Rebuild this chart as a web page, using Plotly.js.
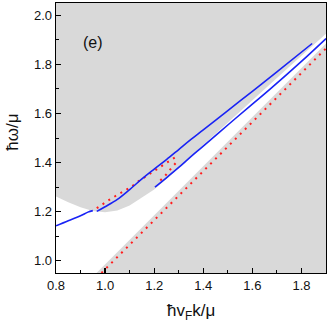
<!DOCTYPE html>
<html>
<head>
<meta charset="utf-8">
<script src="https://cdn.plot.ly/plotly-3.0.1.min.js"></script>
<style>
  html, body { margin: 0; padding: 0; background: #fff; }
  #plot { width: 327px; height: 322px; }
</style>
</head>
<body>
<div id="plot"></div>
<script>
// white (undamped) region: lower edge is a straight line, upper edge a curve
var lowEdgeK = [0.965, 1.9];
var lowEdgeW = [0.95, 1.885];
var upEdgeK = [0.8, 0.85, 0.9, 0.95, 1.0, 1.05, 1.1, 1.15, 1.2, 1.25, 1.3, 1.35, 1.4, 1.5, 1.6, 1.7, 1.8, 1.9];
var upEdgeW = [1.262, 1.238, 1.218, 1.203, 1.198, 1.205, 1.225, 1.258, 1.29, 1.333, 1.378, 1.427, 1.474, 1.566, 1.655, 1.745, 1.835, 1.925];

// blue solid branches
var blueLeftK = [0.8, 0.85, 0.9, 0.93, 0.95];
var blueLeftW = [1.142, 1.163, 1.183, 1.198, 1.204];
var blueUpK = [0.966, 1.0, 1.05, 1.1, 1.15, 1.2, 1.25, 1.3, 1.35, 1.4, 1.5, 1.6, 1.7, 1.8437];
var blueUpW = [1.201, 1.22, 1.25, 1.29, 1.333, 1.373, 1.412, 1.453, 1.494, 1.533, 1.612, 1.690, 1.769, 1.885];
var blueLowK = [1.203, 1.25, 1.3, 1.345, 1.4, 1.5, 1.6, 1.671, 1.8, 1.9];
var blueLowW = [1.300, 1.338, 1.38, 1.42, 1.467, 1.553, 1.638, 1.698, 1.812, 1.905];

// red dotted branches
var redUpK = [0.966, 0.993, 1.02, 1.05, 1.078, 1.105, 1.132, 1.16, 1.188, 1.214, 1.241, 1.272, 1.299];
var redUpW = [1.214, 1.233, 1.250, 1.268, 1.284, 1.300, 1.321, 1.34, 1.359, 1.376, 1.395, 1.413, 1.429];
var redMidK = [1.225, 1.25, 1.271, 1.295];
var redMidW = [1.327, 1.352, 1.379, 1.406];
var redLowK = [0.985, 1.2, 1.4, 1.6, 1.8, 1.9];
var redLowW = [0.95, 1.165, 1.365, 1.565, 1.765, 1.865];

var blue = 'rgb(25,35,245)';
var red = 'rgb(255,30,30)';

// polygon of the white region: along lower edge, then back along upper edge
var polyK = [0.8].concat(lowEdgeK, upEdgeK.slice().reverse());
var polyW = [0.95].concat(lowEdgeW, upEdgeW.slice().reverse());

var traces = [
    {x: polyK, y: polyW, mode: 'lines', fill: 'toself', fillcolor: '#ffffff',
     line: {width: 0, color: '#ffffff'}, hoverinfo: 'skip'},
    {x: redUpK, y: redUpW, mode: 'lines', line: {color: red, width: 2, dash: '2px,5px'}},
    {x: redMidK, y: redMidW, mode: 'lines', line: {color: red, width: 2, dash: '2px,5px'}},
    {x: redLowK, y: redLowW, mode: 'lines', line: {color: red, width: 2, dash: '2px,5px'}},
    {x: blueLeftK, y: blueLeftW, mode: 'lines', line: {color: blue, width: 1.6, shape: 'spline'}},
    {x: blueUpK, y: blueUpW, mode: 'lines', line: {color: blue, width: 1.6, shape: 'spline'}},
    {x: blueLowK, y: blueLowW, mode: 'lines', line: {color: blue, width: 1.6, shape: 'spline'}}
];

var fontFam = 'Liberation Sans, Arial, sans-serif';
var axisFont = {family: fontFam, size: 13, color: '#111'};
var titleFont = {family: fontFam, size: 17, color: '#111'};

var layout = {
    width: 327,
    height: 322,
    margin: {l: 56, r: 1, t: 3, b: 49},
    paper_bgcolor: '#ffffff',
    plot_bgcolor: '#d9d9d9',
    showlegend: false,
    xaxis: {
        range: [0.8, 1.9],
        tick0: 0.8, dtick: 0.2, tickformat: '.1f',
        ticks: 'inside', ticklen: 5, tickwidth: 1.2, tickcolor: '#000',
        minor: {ticks: 'inside', ticklen: 3, dtick: 0.1, tickcolor: '#000', tickwidth: 1},
        showgrid: false, zeroline: false,
        showline: true, linecolor: '#000', linewidth: 1.3, mirror: true,
        tickfont: axisFont
    },
    yaxis: {
        range: [0.95, 2.05],
        tick0: 1.0, dtick: 0.2, tickformat: '.1f',
        ticks: 'inside', ticklen: 5, tickwidth: 1.2, tickcolor: '#000',
        minor: {ticks: 'inside', ticklen: 3, dtick: 0.1, tickcolor: '#000', tickwidth: 1},
        showgrid: false, zeroline: false,
        showline: true, linecolor: '#000', linewidth: 1.3, mirror: true,
        tickfont: axisFont
    },
    annotations: [
        {x: 0.951, y: 1.889, xref: 'x', yref: 'y', text: '(e)', showarrow: false,
         font: {family: fontFam, size: 16, color: '#111'}},
        // axis titles placed by hand
        {x: 0.5, y: -0.143, xref: 'paper', yref: 'paper', text: 'ħv<sub>F</sub>k/μ',
         showarrow: false, font: titleFont, yanchor: 'middle'},
        {x: -0.159, y: 0.52, xref: 'paper', yref: 'paper', text: 'ħω/μ', textangle: -90,
         showarrow: false, font: titleFont, xanchor: 'center'}
    ]
};

Plotly.newPlot('plot', traces, layout, {staticPlot: true});
</script>
</body>
</html>
